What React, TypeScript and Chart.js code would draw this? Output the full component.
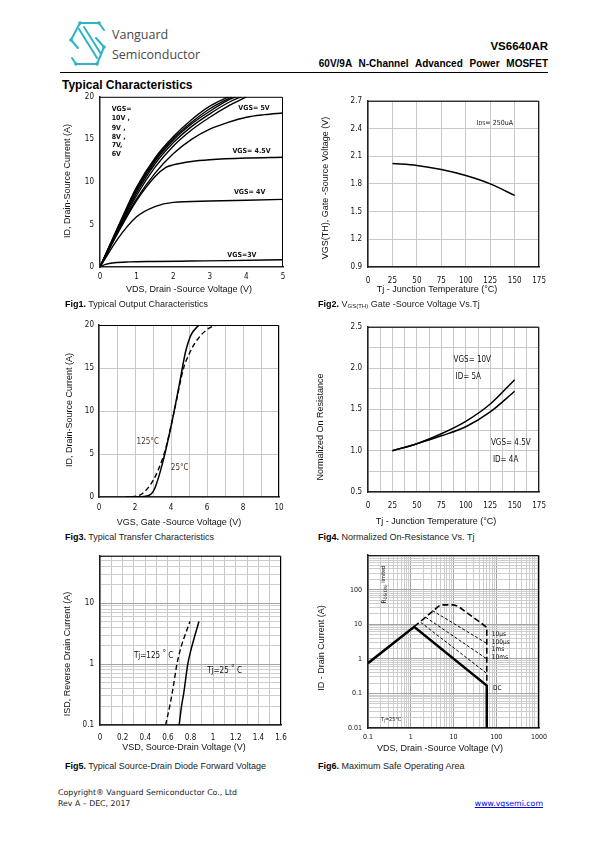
import React, { useEffect, useRef } from "react";
import { Chart, registerables } from "chart.js";

Chart.register(...registerables);

const NARROW = "'Liberation Sans Narrow', 'DejaVu Sans Condensed', 'Arial Narrow', sans-serif";
const SANS = "'Liberation Sans', Arial, Helvetica, sans-serif";
Chart.defaults.font.family = SANS;

/* ---------------- Fig1: typical output characteristics ---------------- */
const fig1XTicks = [0, 1, 2, 3, 4, 5];
const fig1YTicks = [0, 5, 10, 15, 20];
const fig1Vgs10V = [0, 0.5, 1, 1.5, 2, 2.5, 3, 3.5];
const fig1Vgs10I = [0, 4.8, 9.4, 12.8, 15.3, 17.3, 18.9, 20];
const fig1Vgs9V = [0, 0.5, 1, 1.5, 2, 2.5, 3, 3.6];
const fig1Vgs9I = [0, 4.7, 9.2, 12.6, 15.1, 17.0, 18.6, 20];
const fig1Vgs8V = [0, 0.5, 1, 1.5, 2, 2.5, 3, 3.5, 3.7];
const fig1Vgs8I = [0, 4.6, 9.0, 12.4, 14.9, 16.8, 18.3, 19.6, 20];
const fig1Vgs7V = [0, 0.5, 1, 1.5, 2, 2.5, 3, 3.5, 3.85];
const fig1Vgs7I = [0, 4.5, 8.7, 12.1, 14.6, 16.5, 18.0, 19.3, 20];
const fig1Vgs6V = [0, 0.5, 1, 1.5, 2, 2.5, 3, 3.5, 4];
const fig1Vgs6I = [0, 4.3, 8.4, 11.7, 14.2, 16.1, 17.6, 18.9, 20];
const fig1Vgs5V = [0, 0.5, 1, 1.5, 2, 2.5, 3, 3.5, 4, 4.5, 5];
const fig1Vgs5I = [0, 4.2, 8.0, 11.0, 13.3, 15.0, 16.2, 17.0, 17.6, 17.9, 18.1];
const fig1Vgs45V = [0, 0.5, 1, 1.5, 1.8, 2, 2.5, 3, 4, 5];
const fig1Vgs45I = [0, 4.1, 7.8, 10.6, 11.7, 12.0, 12.4, 12.6, 12.8, 12.9];
const fig1Vgs4V = [0, 0.5, 1, 1.5, 2, 3, 4, 5];
const fig1Vgs4I = [0, 3.4, 5.9, 7.1, 7.6, 7.75, 7.85, 7.95];
const fig1Vgs3V = [0, 0.15, 0.4, 0.8, 1.5, 2.5, 3.5, 5];
const fig1Vgs3I = [0, 0.3, 0.5, 0.6, 0.65, 0.7, 0.75, 0.85];

/* ---------------- Fig2: VGS(TH) vs Tj ---------------- */
const fig2XTicks = [0, 25, 50, 75, 100, 125, 150, 175];
const fig2YTicks = [0.9, 1.2, 1.5, 1.8, 2.1, 2.4, 2.7];
const fig2Tj = [25, 50, 75, 100, 125, 150];
const fig2Vth = [2.02, 2.0, 1.955, 1.89, 1.8, 1.675];

/* ---------------- Fig3: transfer characteristics ---------------- */
const fig3XTicks = [0, 1, 2, 3, 4, 5, 6, 7, 8, 9, 10];
const fig3XLabels = [0, 2, 4, 6, 8, 10];
const fig3YTicks = [0, 5, 10, 15, 20];
const fig3Vgs25 = [1.5, 2.5, 2.9, 3.1, 3.5, 4.0, 4.5, 4.8, 5.1, 5.55];
const fig3Id25 = [0, 0.05, 0.35, 1.0, 3.7, 8.2, 13.5, 16.8, 18.8, 20];
const fig3Vgs125 = [1.8, 2.3, 2.7, 3.0, 3.3, 3.7, 4.2, 4.7, 5.0, 5.3, 5.7, 6.1, 6.5, 7.0];
const fig3Id125 = [0, 0.25, 1.0, 1.9, 3.2, 5.6, 10.2, 15.0, 16.6, 17.8, 18.9, 19.6, 19.95, 20];

/* ---------------- Fig4: normalized on-resistance ---------------- */
const fig4XTicks = [0, 12.5, 25, 37.5, 50, 62.5, 75, 87.5, 100, 112.5, 125, 137.5, 150, 162.5, 175];
const fig4XLabels = [0, 25, 50, 75, 100, 125, 150, 175];
const fig4YTicks = [0.5, 0.75, 1.0, 1.25, 1.5, 1.75, 2.0, 2.25, 2.5];
const fig4YLabels = [0.5, 1.0, 1.5, 2.0, 2.5];
const fig4Tj = [25, 50, 75, 100, 125, 150];
const fig4RonVgs10 = [1.0, 1.085, 1.205, 1.355, 1.565, 1.86];
const fig4RonVgs45 = [1.0, 1.085, 1.18, 1.29, 1.47, 1.72];

/* ---------------- Fig5: body diode forward voltage ---------------- */
const fig5XTicks = [0, 0.1, 0.2, 0.3, 0.4, 0.5, 0.6, 0.7, 0.8, 0.9, 1, 1.1, 1.2, 1.3, 1.4, 1.5, 1.6];
const fig5XLabels = [0, 0.2, 0.4, 0.6, 0.8, 1, 1.2, 1.4, 1.6];
const fig5YTicks = [0.1, 0.2, 0.3, 0.4, 0.5, 0.6, 0.7, 0.8, 0.9, 1, 2, 3, 4, 5, 6, 7, 8, 9, 10, 20, 30, 40, 50, 60];
const fig5YLabels = [0.1, 1, 10];
const fig5Vsd125 = [0.58, 0.62, 0.65, 0.68, 0.72, 0.76, 0.795];
const fig5Isd125 = [0.1, 0.22, 0.45, 1.0, 2.0, 3.3, 5.0];
const fig5Vsd25 = [0.7, 0.72, 0.74, 0.776, 0.8, 0.84, 0.875];
const fig5Isd25 = [0.1, 0.2, 0.33, 1.0, 1.6, 3.0, 5.0];

/* ---------------- Fig6: safe operating area ---------------- */
const logGrid = (lo: number, hi: number) => {
  const out: number[] = [];
  for (let e = lo; e < hi; e++) for (let m = 1; m <= 9; m++) out.push(Number((m * Math.pow(10, e)).toPrecision(6)));
  out.push(Number(Math.pow(10, hi).toPrecision(6)));
  return out;
};
const fig6XTicks = logGrid(-1, 3);
const fig6XLabels = [0.1, 1, 10, 100, 1000];
const fig6YTicks = logGrid(-2, 3);
const fig6YLabels = [0.01, 0.1, 1, 10, 100];
const fig6DcV = [0.1, 1.2, 60, 60];
const fig6DcI = [0.75, 8.5, 0.17, 0.01];
const fig6Us10V = [1.2, 4.6, 5.5, 10, 13, 60, 60];
const fig6Us10I = [8.5, 34, 36.5, 36.5, 33, 8.2, 0.2];
const fig6Us100V = [3.2, 60];
const fig6Us100I = [25, 2.8];
const fig6Ms1V = [2.24, 60];
const fig6Ms1I = [16, 1.0];
const fig6Ms10V = [1.71, 60];
const fig6Ms10I = [11.4, 0.38];

/* ---------------- generic chart builder ---------------- */
type ScaleSpec = {
  type: "linear" | "logarithmic";
  min: number;
  max: number;
  ticks: number[];
  labels: number[];
  fmt?: (v: number) => string;
  pad: number;
  size: number;
  grid: boolean;
  gridColor?: (v: number) => string;
};
type Part = { t: string; size?: number; dy?: number };
type TextItem = { x: number; y: number; text?: string; parts?: Part[]; size: number; bold?: boolean; color?: string; rotate?: boolean };
type Spec = {
  id: string;
  box: { x: number; y: number; w: number; h: number };
  area: { l: number; t: number; r: number; b: number };
  x: ScaleSpec;
  y: ScaleSpec;
  datasets: any[];
  xTitle: { text: string; cx: number; cy: number };
  yTitle: { text: string; cx: number; cy: number };
  texts: TextItem[];
};

const pts = (xs: number[], ys: number[]) => xs.map((x, i) => ({ x, y: ys[i] }));
const line = (xs: number[], ys: number[], o: any = {}) => ({
  data: pts(xs, ys),
  borderColor: "#000",
  borderWidth: 1.4,
  pointRadius: 0,
  fill: false,
  cubicInterpolationMode: "monotone",
  ...o,
});
const isDecade = (v: number) => Math.abs(Math.log10(v) - Math.round(Math.log10(v))) < 1e-6;
const logGridColor = (v: number) => (isDecade(v) ? "#a4a4a4" : "#cdcdcd");

function buildConfig(s: Spec): any {
  const padTop = s.area.t - s.box.y;
  const padRight = s.box.x + s.box.w - s.area.r;
  const yW = s.area.l - s.box.x;
  const xH = s.box.y + s.box.h - s.area.b;
  const mkScale = (sc: ScaleSpec, horiz: boolean) => ({
    type: sc.type,
    position: horiz ? "bottom" : "left",
    min: sc.min,
    max: sc.max,
    afterBuildTicks: (a: any) => {
      a.ticks = sc.ticks.map((v) => ({ value: v }));
    },
    afterFit: (a: any) => {
      if (horiz) a.height = xH;
      else a.width = yW;
    },
    ticks: {
      autoSkip: false,
      maxRotation: 0,
      minRotation: 0,
      padding: sc.pad,
      color: "#111",
      font: { family: NARROW, size: sc.size },
      callback: (v: number) =>
        sc.labels.some((l) => Math.abs(l - v) < 1e-9) ? (sc.fmt ? sc.fmt(v) : String(v)) : "",
    },
    grid: {
      display: sc.grid,
      drawTicks: false,
      lineWidth: 1,
      color: (c: any) => (sc.gridColor ? sc.gridColor(c.tick ? c.tick.value : 1) : "#c8c8c8"),
    },
    border: { display: true, color: "#222", width: 1.5 },
    title: { display: false },
  });

  const extras = {
    id: "extras_" + s.id,
    afterDraw(chart: any) {
      const ctx = chart.ctx;
      const a = chart.chartArea;
      ctx.save();
      ctx.strokeStyle = "#000";
      ctx.lineWidth = 1;
      ctx.beginPath();
      ctx.moveTo(a.left, a.top + 0.5);
      ctx.lineTo(a.right - 0.5, a.top + 0.5);
      ctx.lineTo(a.right - 0.5, a.bottom);
      ctx.stroke();

      ctx.fillStyle = "#111";
      ctx.font = `9px ${SANS}`;
      ctx.textAlign = "center";
      ctx.textBaseline = "middle";
      ctx.fillText(s.xTitle.text, s.xTitle.cx - s.box.x, s.xTitle.cy - s.box.y);
      ctx.save();
      ctx.translate(s.yTitle.cx - s.box.x, s.yTitle.cy - s.box.y);
      ctx.rotate(-Math.PI / 2);
      ctx.fillText(s.yTitle.text, 0, 0);
      ctx.restore();

      for (const it of s.texts) {
        const px = chart.scales.x.getPixelForValue(it.x);
        const py = chart.scales.y.getPixelForValue(it.y);
        const parts = it.parts || [{ t: it.text || "" }];
        ctx.save();
        ctx.translate(px, py);
        if (it.rotate) ctx.rotate(-Math.PI / 2);
        ctx.fillStyle = it.color || "#111";
        ctx.textAlign = "left";
        ctx.textBaseline = "middle";
        let cx = 0;
        for (const p of parts) {
          const sz = p.size || it.size;
          ctx.font = `${it.bold ? "bold " : ""}${sz}px ${NARROW}`;
          ctx.fillText(p.t, cx, p.dy || 0);
          cx += ctx.measureText(p.t).width;
        }
        ctx.restore();
      }
      ctx.restore();
    },
  };

  return {
    type: "line",
    data: { datasets: s.datasets },
    options: {
      responsive: false,
      maintainAspectRatio: false,
      animation: false,
      devicePixelRatio: 1,
      layout: { padding: { left: 0, top: padTop, right: padRight, bottom: 0 } },
      plugins: { legend: { display: false }, tooltip: { enabled: false }, title: { display: false } },
      scales: { x: mkScale(s.x, true), y: mkScale(s.y, false) },
    },
    plugins: [extras],
  };
}

const SPECS: Spec[] = [
  {
    id: "f1",
    box: { x: 52, y: 86, w: 243, h: 214 },
    area: { l: 100, t: 96, r: 283, b: 267 },
    x: { type: "linear", min: 0, max: 5, ticks: fig1XTicks, labels: fig1XTicks, pad: 5.5, size: 8, grid: false },
    y: { type: "linear", min: 0, max: 20, ticks: fig1YTicks, labels: fig1YTicks, pad: 6, size: 8, grid: false },
    datasets: [
      line(fig1Vgs10V, fig1Vgs10I),
      line(fig1Vgs9V, fig1Vgs9I),
      line(fig1Vgs8V, fig1Vgs8I),
      line(fig1Vgs7V, fig1Vgs7I),
      line(fig1Vgs6V, fig1Vgs6I),
      line(fig1Vgs5V, fig1Vgs5I),
      line(fig1Vgs45V, fig1Vgs45I),
      line(fig1Vgs4V, fig1Vgs4I),
      line(fig1Vgs3V, fig1Vgs3I),
    ],
    xTitle: { text: "VDS, Drain -Source Voltage (V)", cx: 189, cy: 290 },
    yTitle: { text: "ID, Drain-Source Current (A)", cx: 68, cy: 181 },
    texts: [
      { x: 0.32, y: 18.6, text: "VGS=", size: 7, bold: true },
      { x: 0.32, y: 17.45, text: "10V ,", size: 7, bold: true },
      { x: 0.32, y: 16.35, text: "9V ,", size: 7, bold: true },
      { x: 0.32, y: 15.28, text: "8V ,", size: 7, bold: true },
      { x: 0.32, y: 14.28, text: "7V,", size: 7, bold: true },
      { x: 0.32, y: 13.3, text: "6V", size: 7, bold: true },
      { x: 3.78, y: 18.66, text: "VGS= 5V", size: 7, bold: true },
      { x: 3.62, y: 13.64, text: "VGS= 4.5V", size: 7, bold: true },
      { x: 3.66, y: 8.8, text: "VGS= 4V", size: 7, bold: true },
      { x: 3.48, y: 1.34, text: "VGS=3V", size: 7, bold: true },
    ],
  },
  {
    id: "f2",
    box: { x: 300, y: 90, w: 255, h: 210 },
    area: { l: 368, t: 100, r: 543, b: 267 },
    x: { type: "linear", min: 0, max: 175, ticks: fig2XTicks, labels: fig2XTicks, pad: 9, size: 8, grid: true },
    y: { type: "linear", min: 0.9, max: 2.7, ticks: fig2YTicks, labels: fig2YTicks, fmt: (v) => v.toFixed(1), pad: 6, size: 8, grid: true },
    datasets: [line(fig2Tj, fig2Vth, { borderWidth: 1.5 })],
    xTitle: { text: "Tj - Junction Temperature (\u00B0C)", cx: 437, cy: 290 },
    yTitle: { text: "VGS(TH), Gate -Source Voltage (V)", cx: 326, cy: 188 },
    texts: [{ x: 111, y: 2.46, parts: [{ t: "I" }, { t: "DS", size: 5.5, dy: 1 }, { t: "= 250uA" }], size: 7 }],
  },
  {
    id: "f3",
    box: { x: 52, y: 315, w: 243, h: 215 },
    area: { l: 99, t: 325, r: 279, b: 497 },
    x: { type: "linear", min: 0, max: 10, ticks: fig3XTicks, labels: fig3XLabels, pad: 6, size: 8, grid: true },
    y: { type: "linear", min: 0, max: 20, ticks: fig3YTicks, labels: fig3YTicks, pad: 5, size: 8, grid: true },
    datasets: [
      line(fig3Vgs125, fig3Id125, { borderDash: [5, 3], borderWidth: 1.4 }),
      line(fig3Vgs25, fig3Id25, { borderWidth: 1.5 }),
    ],
    xTitle: { text: "VGS, Gate -Source Voltage (V)", cx: 179, cy: 523 },
    yTitle: { text: "ID, Drain-Source Current (A)", cx: 70, cy: 410 },
    texts: [
      { x: 2.09, y: 6.37, text: "125\u00B0C", size: 8, color: "#4a3426" },
      { x: 3.99, y: 3.34, text: "25\u00B0C", size: 8, color: "#4a3426" },
    ],
  },
  {
    id: "f4",
    box: { x: 300, y: 316, w: 255, h: 214 },
    area: { l: 368, t: 326, r: 542, b: 492 },
    x: { type: "linear", min: 0, max: 175, ticks: fig4XTicks, labels: fig4XLabels, pad: 9, size: 8, grid: true },
    y: { type: "linear", min: 0.5, max: 2.5, ticks: fig4YTicks, labels: fig4YLabels, fmt: (v) => v.toFixed(1), pad: 6, size: 8, grid: true },
    datasets: [line(fig4Tj, fig4RonVgs10, { borderWidth: 1.5 }), line(fig4Tj, fig4RonVgs45, { borderWidth: 1.5 })],
    xTitle: { text: "Tj - Junction Temperature (\u00B0C)", cx: 436, cy: 522 },
    yTitle: { text: "Normalized On Resistance", cx: 321, cy: 427 },
    texts: [
      { x: 87.5, y: 2.094, text: "VGS= 10V", size: 8 },
      { x: 89.5, y: 1.89, text: "ID= 5A", size: 8 },
      { x: 125.7, y: 1.093, text: "VGS= 4.5V", size: 8 },
      { x: 127.7, y: 0.892, text: "ID= 4A", size: 8 },
    ],
  },
  {
    id: "f5",
    box: { x: 52, y: 545, w: 243, h: 215 },
    area: { l: 100, t: 555, r: 281, b: 725 },
    x: { type: "linear", min: 0, max: 1.6, ticks: fig5XTicks, labels: fig5XLabels, pad: 8, size: 8, grid: true },
    y: { type: "logarithmic", min: 0.1, max: 60, ticks: fig5YTicks, labels: fig5YLabels, pad: 6, size: 8, grid: true, gridColor: logGridColor },
    datasets: [
      line(fig5Vsd125, fig5Isd125, { borderDash: [5, 3], borderWidth: 1.4 }),
      line(fig5Vsd25, fig5Isd25, { borderWidth: 1.5 }),
    ],
    xTitle: { text: "VSD, Source-Drain Voltage (V)", cx: 184, cy: 748 },
    yTitle: { text: "ISD, Reverse Drain Current (A)", cx: 68, cy: 654 },
    texts: [
      { x: 0.3, y: 1.36, parts: [{ t: "Tj=125 " }, { t: "\u00B0", dy: -2 }, { t: " C" }], size: 8 },
      { x: 0.947, y: 0.78, parts: [{ t: "Tj=25 " }, { t: "\u00B0", dy: -2 }, { t: " C" }], size: 8 },
    ],
  },
  {
    id: "f6",
    box: { x: 300, y: 545, w: 255, h: 215 },
    area: { l: 368, t: 555, r: 539, b: 728 },
    x: { type: "logarithmic", min: 0.1, max: 1000, ticks: fig6XTicks, labels: fig6XLabels, pad: 5, size: 7, grid: true, gridColor: logGridColor },
    y: { type: "logarithmic", min: 0.01, max: 1000, ticks: fig6YTicks, labels: fig6YLabels, pad: 6, size: 7, grid: true, gridColor: logGridColor },
    datasets: [
      line(fig6Us10V, fig6Us10I, { borderDash: [6, 3], borderWidth: 1.6, cubicInterpolationMode: "default", tension: 0 }),
      line(fig6Us100V, fig6Us100I, { borderDash: [3, 2], borderWidth: 1, cubicInterpolationMode: "default", tension: 0 }),
      line(fig6Ms1V, fig6Ms1I, { borderDash: [3, 2], borderWidth: 1, cubicInterpolationMode: "default", tension: 0 }),
      line(fig6Ms10V, fig6Ms10I, { borderDash: [3, 2], borderWidth: 1, cubicInterpolationMode: "default", tension: 0 }),
      line(fig6DcV, fig6DcI, { borderWidth: 2.5, cubicInterpolationMode: "default", tension: 0 }),
    ],
    xTitle: { text: "VDS, Drain -Source Voltage (V)", cx: 440, cy: 749 },
    yTitle: { text: "ID - Drain Current (A)", cx: 322, cy: 648 },
    texts: [
      { x: 0.236, y: 40, rotate: true, parts: [{ t: "R", size: 6.5 }, { t: "DS(ON)", size: 4.5, dy: 1.5 }, { t: " limited" }], size: 5.5 },
      { x: 0.2, y: 0.0176, parts: [{ t: "T" }, { t: "J", size: 4, dy: 1.5 }, { t: "=25\u00B0C" }], size: 5.5 },
      { x: 79, y: 5.0, text: "10\u00B5s", size: 6.5 },
      { x: 79, y: 2.96, text: "100\u00B5s", size: 6.5 },
      { x: 79, y: 1.86, text: "1ms", size: 6.5 },
      { x: 79, y: 1.11, text: "10ms", size: 6.5 },
      { x: 84, y: 0.143, text: "DC", size: 6.5 },
    ],
  },
];

function ChartCanvas({ spec }: { spec: Spec }) {
  const ref = useRef<HTMLCanvasElement>(null);
  useEffect(() => {
    const chart = new Chart(ref.current as HTMLCanvasElement, buildConfig(spec));
    return () => chart.destroy();
  }, [spec]);
  return (
    <canvas
      ref={ref}
      width={spec.box.w}
      height={spec.box.h}
      style={{ position: "absolute", left: spec.box.x, top: spec.box.y, width: spec.box.w, height: spec.box.h }}
    />
  );
}

function Txt(p: { x: number; y: number; size: number; bold?: boolean; right?: boolean; family?: string; color?: string; extra?: any; children: any }) {
  const lh = p.size * 1.2;
  const style: any = {
    position: "absolute",
    top: p.y - lh / 2,
    lineHeight: lh + "px",
    fontSize: p.size,
    fontFamily: p.family || SANS,
    fontWeight: p.bold ? 700 : 400,
    color: p.color || "#000",
    whiteSpace: "nowrap",
    ...(p.extra || {}),
  };
  if (p.right) style.right = 595 - p.x;
  else style.left = p.x;
  return <div style={style}>{p.children}</div>;
}

function Logo() {
  const c = "#2fb3c6";
  const dots = [
    [80, 23], [99, 23], [71, 40], [104, 47], [97, 64], [76, 64],
  ];
  return (
    <svg width={595} height={100} style={{ position: "absolute", left: 0, top: 0 }} viewBox="0 0 595 100">
      <g fill="none" stroke={c} strokeWidth={2} strokeLinejoin="round" strokeLinecap="round">
        <path d="M80 23 L99 23 L104 30" />
        <path d="M80 23 L71 40 L78 48" />
        <path d="M79 29 L97 58" />
        <path d="M84 27 L101 54" />
        <path d="M96 38 L104 47 L97 64 L76 64 L72 58" />
      </g>
      {dots.map(([x, y], i) => (
        <circle key={i} cx={x} cy={y} r={1.8} fill={c} />
      ))}
    </svg>
  );
}

export default function App() {
  const sub = { fontSize: 6, verticalAlign: "-1px" };
  const cap = { fontWeight: 400, color: "#222" };
  const foot = "'DejaVu Sans', Verdana, sans-serif";
  return (
    <div style={{ position: "absolute", left: 0, top: 0, width: 595, height: 842, background: "#fff", overflow: "hidden" }}>
      <Logo />
      <Txt x={112} y={34} size={12.5} family="'Open Sans', sans-serif" color="#4a4a4a">Vanguard</Txt>
      <Txt x={112} y={54} size={12.5} family="'Open Sans', sans-serif" color="#4a4a4a">Semiconductor</Txt>
      <Txt x={548} y={47} size={11.5} bold right>VS6640AR</Txt>
      <Txt x={548} y={64} size={10} bold right extra={{ wordSpacing: 4 }}>60V/9A N-Channel Advanced Power MOSFET</Txt>
      <div style={{ position: "absolute", left: 60, top: 71.5, width: 488, height: 1.2, background: "#000" }} />
      <Txt x={62} y={85} size={12} bold>Typical Characteristics</Txt>

      {SPECS.map((s) => (
        <ChartCanvas key={s.id} spec={s} />
      ))}

      <Txt x={65} y={304} size={9}><b>Fig1.</b><span style={cap}> Typical Output Characteristics</span></Txt>
      <Txt x={318} y={304} size={9}>
        <b>Fig2.</b><span style={cap}> V<span style={sub}>GS(TH)</span> Gate -Source Voltage Vs.Tj</span>
      </Txt>
      <Txt x={65} y={537} size={9}><b>Fig3.</b><span style={cap}> Typical Transfer Characteristics</span></Txt>
      <Txt x={318} y={537} size={9}><b>Fig4.</b><span style={cap}> Normalized On-Resistance Vs. Tj</span></Txt>
      <Txt x={65} y={766} size={9}><b>Fig5.</b><span style={cap}> Typical Source-Drain Diode Forward Voltage</span></Txt>
      <Txt x={318} y={766} size={9}><b>Fig6.</b><span style={cap}> Maximum Safe Operating Area</span></Txt>

      <Txt x={58} y={793} size={7.8} family={foot} color="#222">Copyright® Vanguard Semiconductor Co., Ltd</Txt>
      <Txt x={58} y={804} size={7.8} family={foot} color="#222">Rev A – DEC, 2017</Txt>
      <Txt x={543} y={804} size={7.8} right family={foot} color="#0000ee" extra={{ textDecoration: "underline" }}>www.vgsemi.com</Txt>
    </div>
  );
}
